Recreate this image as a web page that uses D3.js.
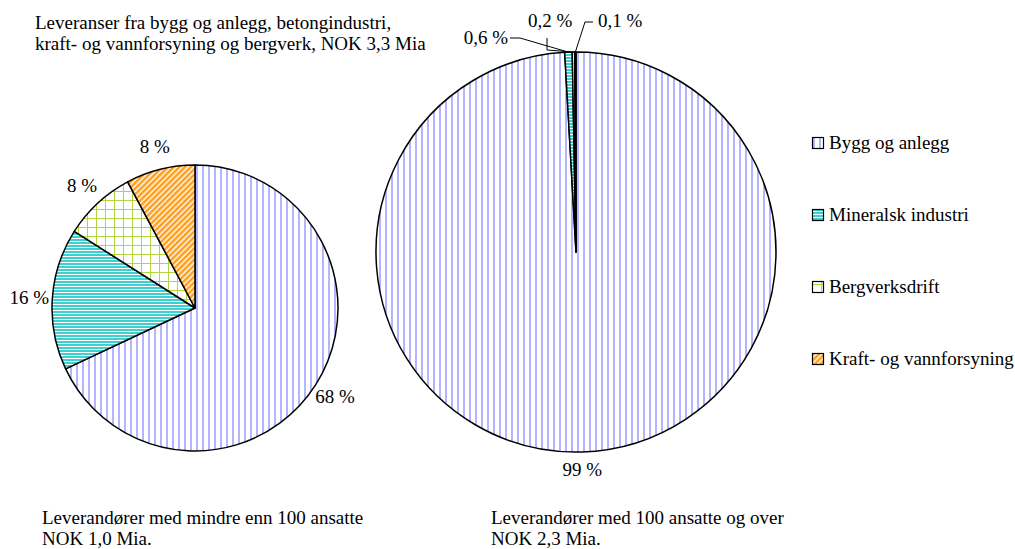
<!DOCTYPE html>
<html>
<head>
<meta charset="utf-8">
<script src="https://cdn.jsdelivr.net/npm/d3@7"></script>
<style>
  body { margin: 0; background: #fff; }
  svg { display: block; font-family: "Liberation Serif", "Times New Roman", serif; }
</style>
</head>
<body>
<div id="chart"></div>
<script>
// categories + values
let categories = ["Bygg og anlegg", "Mineralsk industri", "Bergverksdrift", "Kraft- og vannforsyning"];
let smallValues = [68, 16, 8.2, 7.8];     // < 100 ansatte
let largeValues = [99.1, 0.6, 0.2, 0.1];  // >= 100 ansatte
let smallLabels = ["68 %", "16 %", "8 %", "8 %"];
let largeLabels = ["99 %", "0,6 %", "0,2 %", "0,1 %"];
let titleLines = ["Leveranser fra bygg og anlegg, betongindustri,", "kraft- og vannforsyning og bergverk, NOK 3,3 Mia"];
let smallCaption = ["Leverandører med mindre enn 100 ansatte", "NOK 1,0 Mia."];
let largeCaption = ["Leverandører med 100 ansatte og over", "NOK 2,3 Mia."];

let width = 1015, height = 549;
let fontSize = 19;
let svg = d3.select("#chart").append("svg")
  .attr("width", width)
  .attr("height", height);

// fill patterns
let defs = svg.append("defs");

let p = defs.append("pattern").attr("id", "pat0")
  .attr("patternUnits", "userSpaceOnUse").attr("width", 6).attr("height", 6);
p.append("rect").attr("width", 6).attr("height", 6).attr("fill", "#fff");
p.append("rect").attr("x", 1).attr("width", 2).attr("height", 6).attr("fill", "#b4b4ff");

p = defs.append("pattern").attr("id", "pat1")
  .attr("patternUnits", "userSpaceOnUse").attr("width", 6).attr("height", 3);
p.append("rect").attr("width", 6).attr("height", 3).attr("fill", "#fff");
p.append("rect").attr("width", 6).attr("height", 2).attr("fill", "#3fcfcf");

p = defs.append("pattern").attr("id", "pat2")
  .attr("patternUnits", "userSpaceOnUse").attr("width", 9).attr("height", 9);
p.append("rect").attr("width", 9).attr("height", 9).attr("fill", "#fff");
p.append("rect").attr("width", 1).attr("height", 9).attr("fill", "#b2d43c");
p.append("rect").attr("width", 9).attr("height", 1).attr("fill", "#b2d43c");

p = defs.append("pattern").attr("id", "pat3")
  .attr("patternUnits", "userSpaceOnUse").attr("width", 4).attr("height", 4)
  .attr("patternTransform", "rotate(45)");
p.append("rect").attr("width", 4).attr("height", 4).attr("fill", "#fff");
p.append("rect").attr("width", 2.6).attr("height", 4).attr("fill", "#ff9e1a");

let fillFor = i => "url(#pat" + i + ")";

let pie = d3.pie().sort(null).value(d => d);

let drawPie = function(values, cx, cy, r) {
  let g = svg.append("g").attr("transform", "translate(" + [cx, cy] + ")");
  let arc = d3.arc().innerRadius(0).outerRadius(r);
  let arcs = pie(values);
  g.selectAll("path.slice")
    .data(arcs)
    .enter().append("path")
    .attr("class", "slice")
    .attr("d", arc)
    .attr("fill", (d, i) => fillFor(i))
    .attr("stroke", "#000")
    .attr("stroke-width", 1.5)
    .attr("stroke-linejoin", "round");
  return {g: g, arcs: arcs, arc: arc};
};

// left pie
let left = drawPie(smallValues, 195, 308, 143);
let leftLabelArc = d3.arc().innerRadius(166).outerRadius(166);
left.g.selectAll("text")
  .data(left.arcs)
  .enter().append("text")
  .attr("x", d => leftLabelArc.centroid(d)[0])
  .attr("y", d => leftLabelArc.centroid(d)[1] + 6)
  .attr("text-anchor", "middle")
  .attr("font-size", fontSize)
  .text((d, i) => smallLabels[i]);

// right pie
let right = drawPie(largeValues, 576, 252, 200);
let rightLabelArc = d3.arc().innerRadius(218).outerRadius(218);
let big = right.arcs[0];
right.g.append("text")
  .attr("x", rightLabelArc.centroid(big)[0])
  .attr("y", rightLabelArc.centroid(big)[1] + 6)
  .attr("text-anchor", "middle")
  .attr("font-size", fontSize)
  .text(largeLabels[0]);

// leader lines for the thin slices: elbow + label offsets relative to pie centre
let leaders = [
  {i: 1, pts: [[-56, -214], [-66, -214]], tx: -68, ty: -208, anchor: "end"},
  {i: 2, pts: [[-29, -202], [-29, -214]], tx: -48, ty: -225, anchor: "start"},
  {i: 3, pts: [[9, -230], [17, -230]], tx: 22, ty: -225, anchor: "start"}
];
let edgeArc = d3.arc().innerRadius(200).outerRadius(200);
leaders.forEach(function(l) {
  let a = right.arcs[l.i];
  let start = edgeArc.centroid(a);
  right.g.append("path")
    .attr("d", d3.line()([start].concat(l.pts)))
    .attr("fill", "none")
    .attr("stroke", "#000")
    .attr("stroke-width", 1);
  right.g.append("text")
    .attr("x", l.tx)
    .attr("y", l.ty)
    .attr("text-anchor", l.anchor)
    .attr("font-size", fontSize)
    .text(largeLabels[l.i]);
});

// title
svg.append("g").selectAll("text")
  .data(titleLines)
  .enter().append("text")
  .attr("x", 35)
  .attr("y", (d, i) => 29 + i * 21)
  .attr("font-size", fontSize)
  .text(d => d);

// captions
[[smallCaption, 42], [largeCaption, 491]].forEach(function(c) {
  svg.append("g").selectAll("text")
    .data(c[0])
    .enter().append("text")
    .attr("x", c[1])
    .attr("y", (d, i) => 524 + i * 21)
    .attr("font-size", fontSize)
    .text(d => d);
});

// legend
let legend = svg.append("g").attr("transform", "translate(812,0)");
let item = legend.selectAll("g")
  .data(categories)
  .enter().append("g")
  .attr("transform", (d, i) => "translate(0," + (149 + i * 72) + ")");
item.append("rect")
  .attr("x", 0.5).attr("y", -11.5)
  .attr("width", 11).attr("height", 11)
  .attr("fill", (d, i) => fillFor(i))
  .attr("stroke", "#000")
  .attr("stroke-width", 1.2);
item.append("text")
  .attr("x", 17)
  .attr("font-size", fontSize)
  .text(d => d);
</script>
</body>
</html>
